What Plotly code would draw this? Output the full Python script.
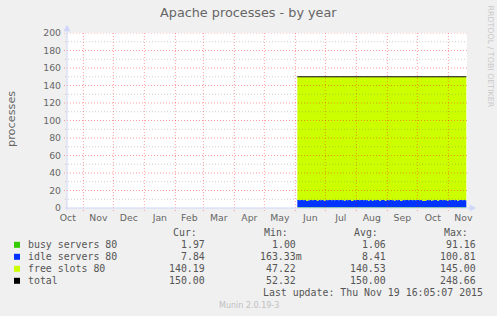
import plotly.graph_objects as go
import pandas as pd

# ---------------- data ----------------
day_start = "2015-06-03"
day_end = "2015-11-19"
range_start = "2014-10-15 16:05:07"
range_end = "2015-11-19 16:05:07"

busy = [
    1.0, 1.0, 1.0, 1.0, 1.0, 1.0, 1.0, 1.0, 1.0, 1.0,
    1.0, 1.0, 1.0, 1.0, 1.0, 1.0, 1.0, 1.0, 1.0, 1.0,
    1.0, 1.0, 1.0, 1.0, 1.0, 1.0, 1.0, 1.0, 1.0, 1.0,
    1.0, 1.0, 1.0, 1.0, 1.0, 1.0, 1.0, 1.0, 1.0, 1.0,
    1.0, 1.0, 1.0, 1.0, 1.0, 1.0, 1.0, 1.0, 1.0, 1.0,
    1.0, 1.0, 1.0, 1.0, 1.0, 1.0, 1.0, 1.0, 1.0, 1.0,
    1.0, 1.0, 1.0, 1.0, 1.0, 1.0, 1.0, 1.0, 1.0, 1.0,
    1.0, 1.0, 1.0, 1.0, 1.0, 1.0, 1.0, 1.0, 1.0, 1.0,
    1.0, 1.0, 1.0, 1.0, 1.0, 1.0, 1.0, 1.0, 1.0, 1.0,
    1.0, 1.0, 1.0, 1.0, 1.0, 1.0, 1.0, 1.0, 1.0, 1.0,
    1.0, 1.0, 1.0, 1.0, 1.0, 1.0, 1.0, 1.0, 1.0, 1.0,
    1.0, 1.0, 1.0, 1.0, 1.0, 1.0, 1.0, 1.0, 1.0, 1.0,
    1.0, 1.0, 1.0, 1.0, 1.0, 1.0, 1.0, 1.0, 1.0, 1.0,
    1.0, 1.0, 1.0, 1.0, 1.0, 1.0, 1.0, 1.0, 1.0, 1.0,
    1.0, 1.0, 1.0, 1.0, 1.0, 1.0, 1.0, 1.0, 1.0, 1.0,
    1.0, 1.0, 1.0, 1.0, 1.0, 1.0, 1.0, 1.0, 1.0, 1.0,
    1.0, 1.0, 1.0, 1.0, 1.0, 1.0, 1.0, 1.0, 1.0, 1.97,
]

idle = [
    8.2, 8.1, 8.0, 8.1, 8.2, 8.1, 8.0, 8.1, 8.2, 7.0,
    7.1, 8.1, 8.0, 8.2, 8.1, 8.0, 8.1, 8.2, 8.1, 8.0,
    7.0, 8.1, 8.2, 8.0, 8.1, 8.1, 8.0, 7.1, 8.2, 8.1,
    8.0, 8.1, 8.2, 8.1, 8.0, 8.1, 8.2, 8.0, 8.1, 8.1,
    8.2, 8.0, 8.1, 8.2, 8.1, 8.0, 8.1, 7.0, 8.2, 8.1,
    8.0, 8.1, 8.2, 8.1, 7.1, 7.0, 8.1, 8.2, 8.0, 8.1,
    8.1, 8.2, 8.0, 8.1, 8.2, 8.1, 8.0, 8.1, 8.2, 8.0,
    8.1, 7.0, 8.2, 8.1, 8.0, 7.1, 8.1, 8.2, 8.0, 8.1,
    8.2, 8.1, 7.0, 8.0, 8.1, 8.2, 8.1, 8.0, 7.1, 8.2,
    8.1, 8.0, 8.1, 8.2, 8.1, 8.0, 8.1, 7.0, 8.2, 8.1,
    8.0, 8.1, 8.2, 7.1, 7.0, 8.1, 8.2, 8.0, 8.1, 8.1,
    8.2, 8.0, 8.1, 8.2, 8.1, 8.0, 8.1, 8.2, 8.0, 8.1,
    8.1, 8.2, 8.0, 8.1, 8.2, 7.0, 6.9, 7.1, 7.0, 8.1,
    8.2, 8.0, 8.1, 8.2, 7.0, 8.1, 8.0, 8.1, 8.2, 8.1,
    7.1, 8.0, 8.1, 8.2, 8.1, 8.0, 8.1, 8.2, 8.0, 8.1,
    7.0, 8.1, 8.2, 8.0, 8.1, 8.1, 8.2, 8.0, 8.1, 8.2,
    7.1, 8.0, 8.1, 8.2, 8.1, 8.0, 8.1, 8.2, 8.0, 7.84,
]

free = [
    140.8, 140.9, 141.0, 140.9, 140.8, 140.9, 141.0, 140.9, 140.8, 142.0,
    141.9, 140.9, 141.0, 140.8, 140.9, 141.0, 140.9, 140.8, 140.9, 141.0,
    142.0, 140.9, 140.8, 141.0, 140.9, 140.9, 141.0, 141.9, 140.8, 140.9,
    141.0, 140.9, 140.8, 140.9, 141.0, 140.9, 140.8, 141.0, 140.9, 140.9,
    140.8, 141.0, 140.9, 140.8, 140.9, 141.0, 140.9, 142.0, 140.8, 140.9,
    141.0, 140.9, 140.8, 140.9, 141.9, 142.0, 140.9, 140.8, 141.0, 140.9,
    140.9, 140.8, 141.0, 140.9, 140.8, 140.9, 141.0, 140.9, 140.8, 141.0,
    140.9, 142.0, 140.8, 140.9, 141.0, 141.9, 140.9, 140.8, 141.0, 140.9,
    140.8, 140.9, 142.0, 141.0, 140.9, 140.8, 140.9, 141.0, 141.9, 140.8,
    140.9, 141.0, 140.9, 140.8, 140.9, 141.0, 140.9, 142.0, 140.8, 140.9,
    141.0, 140.9, 140.8, 141.9, 142.0, 140.9, 140.8, 141.0, 140.9, 140.9,
    140.8, 141.0, 140.9, 140.8, 140.9, 141.0, 140.9, 140.8, 141.0, 140.9,
    140.9, 140.8, 141.0, 140.9, 140.8, 142.0, 142.1, 141.9, 142.0, 140.9,
    140.8, 141.0, 140.9, 140.8, 142.0, 140.9, 141.0, 140.9, 140.8, 140.9,
    141.9, 141.0, 140.9, 140.8, 140.9, 141.0, 140.9, 140.8, 141.0, 140.9,
    142.0, 140.9, 140.8, 141.0, 140.9, 140.9, 140.8, 141.0, 140.9, 140.8,
    141.9, 141.0, 140.9, 140.8, 140.9, 141.0, 140.9, 140.8, 141.0, 140.19,
]

total = [
    150.0, 150.0, 150.0, 150.0, 150.0, 150.0, 150.0, 150.0, 150.0, 150.0,
    150.0, 150.0, 150.0, 150.0, 150.0, 150.0, 150.0, 150.0, 150.0, 150.0,
    150.0, 150.0, 150.0, 150.0, 150.0, 150.0, 150.0, 150.0, 150.0, 150.0,
    150.0, 150.0, 150.0, 150.0, 150.0, 150.0, 150.0, 150.0, 150.0, 150.0,
    150.0, 150.0, 150.0, 150.0, 150.0, 150.0, 150.0, 150.0, 150.0, 150.0,
    150.0, 150.0, 150.0, 150.0, 150.0, 150.0, 150.0, 150.0, 150.0, 150.0,
    150.0, 150.0, 150.0, 150.0, 150.0, 150.0, 150.0, 150.0, 150.0, 150.0,
    150.0, 150.0, 150.0, 150.0, 150.0, 150.0, 150.0, 150.0, 150.0, 150.0,
    150.0, 150.0, 150.0, 150.0, 150.0, 150.0, 150.0, 150.0, 150.0, 150.0,
    150.0, 150.0, 150.0, 150.0, 150.0, 150.0, 150.0, 150.0, 150.0, 150.0,
    150.0, 150.0, 150.0, 150.0, 150.0, 150.0, 150.0, 150.0, 150.0, 150.0,
    150.0, 150.0, 150.0, 150.0, 150.0, 150.0, 150.0, 150.0, 150.0, 150.0,
    150.0, 150.0, 150.0, 150.0, 150.0, 150.0, 150.0, 150.0, 150.0, 150.0,
    150.0, 150.0, 150.0, 150.0, 150.0, 150.0, 150.0, 150.0, 150.0, 150.0,
    150.0, 150.0, 150.0, 150.0, 150.0, 150.0, 150.0, 150.0, 150.0, 150.0,
    150.0, 150.0, 150.0, 150.0, 150.0, 150.0, 150.0, 150.0, 150.0, 150.0,
    150.0, 150.0, 150.0, 150.0, 150.0, 150.0, 150.0, 150.0, 150.0, 150.0,
]

series_names = ["busy servers 80", "idle servers 80", "free slots 80", "total"]
series_colors = ["#33cc00", "#0033ff", "#ccff00", "#000000"]
cur_vals = ["1.97", "7.84", "140.19", "150.00"]
min_vals = ["1.00", "163.33m", "47.22", "52.32"]
avg_vals = ["1.06", "8.41", "140.53", "150.00"]
max_vals = ["91.16", "100.81", "145.00", "248.66"]
col_headers = ["Cur:", "Min:", "Avg:", "Max:"]
y_ticks = [0, 20, 40, 60, 80, 100, 120, 140, 160, 180, 200]
y_minor = [10, 30, 50, 70, 90, 110, 130, 150, 170, 190]
title = "Apache processes - by year"
y_title = "processes"
last_update = "Last update: Thu Nov 19 16:05:07 2015"
munin_ver = "Munin 2.0.19-3"
rrd_credit = "RRDTOOL / TOBI OETIKER"

# ---------------- layout geometry ----------------
W, H = 497, 316
PL, PR, PT, PB = 67, 467, 33, 208
PW, PH = PR - PL, PB - PT


def xp(px):
    return (px - PL) / PW


def yp(py):
    return (PB - py) / PH


dates = pd.date_range(day_start, day_end, freq="D")
assert len(dates) == len(busy) == len(idle) == len(free) == len(total)

month_starts = pd.date_range("2014-10-01", "2015-12-01", freq="MS")
label_pos = [month_starts[i] + (month_starts[i + 1] - month_starts[i]) / 2
             for i in range(len(month_starts) - 1)]
label_txt = [d.strftime("%b") for d in month_starts[:-1]]
grid_months = [d for d in month_starts
               if pd.Timestamp(range_start) < d < pd.Timestamp(range_end)]

fig = go.Figure()
for name, vals, col in zip(series_names[:3], [busy, idle, free], series_colors[:3]):
    fig.add_trace(go.Scatter(
        x=dates, y=vals, name=name, mode="lines", stackgroup="one",
        line=dict(width=0, shape="hv"), fillcolor=col, hoverinfo="skip"))
fig.add_trace(go.Scatter(
    x=dates, y=total, name=series_names[3], mode="lines",
    line=dict(color=series_colors[3], width=1.2, shape="hv"), hoverinfo="skip"))

FONT = "DejaVu Sans"
MONO = "DejaVu Sans Mono"
TXT = "#666666"
AXIS = "#CFD6F8"
RED_GRID = "rgba(255,0,0,0.38)"
GREY_GRID = "rgba(128,128,128,0.38)"

shapes = []
# horizontal grid (above the data, as in rrdtool)
for v in y_minor:
    shapes.append(dict(type="line", xref="paper", yref="y", x0=xp(PL - 2), x1=1,
                       y0=v, y1=v, layer="above",
                       line=dict(color=GREY_GRID, width=1, dash="1px,2px")))
for v in y_ticks[1:]:
    shapes.append(dict(type="line", xref="paper", yref="y", x0=xp(PL - 3), x1=1,
                       y0=v, y1=v, layer="above",
                       line=dict(color=RED_GRID, width=1, dash="1px,2px")))
for d in grid_months:
    shapes.append(dict(type="line", xref="x", yref="paper", x0=d, x1=d,
                       y0=yp(PB + 3), y1=1, layer="above",
                       line=dict(color=RED_GRID, width=1, dash="1px,2px")))
# axes with arrows
shapes.append(dict(type="line", xref="paper", yref="paper", x0=xp(PL - 2), x1=xp(PR + 4),
                   y0=0, y1=0, layer="above", line=dict(color=AXIS, width=1)))
shapes.append(dict(type="line", xref="paper", yref="paper", x0=0, x1=0,
                   y0=yp(PB + 2), y1=yp(PT - 3), layer="above", line=dict(color=AXIS, width=1)))
shapes.append(dict(type="path", xref="paper", yref="paper", layer="above",
                   path=f"M {xp(PR+3)},{yp(PB-3)} L {xp(PR+9)},{yp(PB)} L {xp(PR+3)},{yp(PB+3)} Z",
                   fillcolor=AXIS, line=dict(color=AXIS, width=0.5)))
shapes.append(dict(type="path", xref="paper", yref="paper", layer="above",
                   path=f"M {xp(PL-3)},{yp(PT-2)} L {xp(PL)},{yp(PT-8)} L {xp(PL+3)},{yp(PT-2)} Z",
                   fillcolor=AXIS, line=dict(color=AXIS, width=0.5)))

annotations = []


def ann(text, x, y, size, color=TXT, family=FONT, xanchor="left", angle=0):
    annotations.append(dict(text=text, x=xp(x), y=yp(y), xref="paper", yref="paper",
                            xanchor=xanchor, yanchor="middle", showarrow=False,
                            borderpad=0, textangle=angle,
                            font=dict(family=family, size=size, color=color)))


ann(title, 248.5, 13, 12.8, xanchor="center")
ann(y_title, 11, 119, 11.3, xanchor="center", angle=-90)
ann(rrd_credit, 490.5, 56, 7.9, color="#c8c8c8", xanchor="center", angle=90)

row_y = [244.5, 256.5, 268.5, 280.5]
head_right = [198.3, 289.3, 379.3, 469.3]
val_right = [206.0, 296.7, 387.3, 477.3]
for h, xr in zip(col_headers, head_right):
    ann(h, xr, 232.5, 9.9, family=MONO, xanchor="right", color="#555555")
for i, name in enumerate(series_names):
    y = row_y[i]
    shapes.append(dict(type="rect", xref="paper", yref="paper",
                       x0=xp(14), x1=xp(20), y0=yp(y + 3.3), y1=yp(y - 2.7),
                       fillcolor=series_colors[i], line=dict(width=0)))
    ann(name, 26.7, y, 9.9, family=MONO, color="#555555")
    for col, xr in zip([cur_vals, min_vals, avg_vals, max_vals], val_right):
        s = col[i]
        off = 6.0 if s[-1].isalpha() else 0.0
        ann(s, xr + off, y, 9.9, family=MONO, xanchor="right", color="#555555")
ann(last_update, 484.0, 292.7, 9.9, family=MONO, xanchor="right", color="#555555")
ann(munin_ver, 248.8, 305.3, 8, color="#c0c0c0", xanchor="center")

fig.update_layout(
    width=W, height=H,
    margin=dict(l=PL, r=W - PR, t=PT, b=H - PB, pad=0),
    paper_bgcolor="#f0f0f0", plot_bgcolor="#ffffff",
    showlegend=False,
    shapes=shapes, annotations=annotations,
    xaxis=dict(type="date", range=[range_start, range_end],
               tickmode="array", tickvals=label_pos, ticktext=label_txt,
               showgrid=False, zeroline=False, showline=False, ticks="",
               ticklabelstandoff=3,
               tickfont=dict(family=FONT, size=9.3, color=TXT), fixedrange=True),
    yaxis=dict(range=[0, 200], tickmode="array", tickvals=y_ticks,
               showgrid=False, zeroline=False, showline=False, ticks="",
               ticklabelstandoff=5,
               tickfont=dict(family=FONT, size=9.3, color=TXT), fixedrange=True),
)

fig.write_html("out.html", config={"displayModeBar": False})
